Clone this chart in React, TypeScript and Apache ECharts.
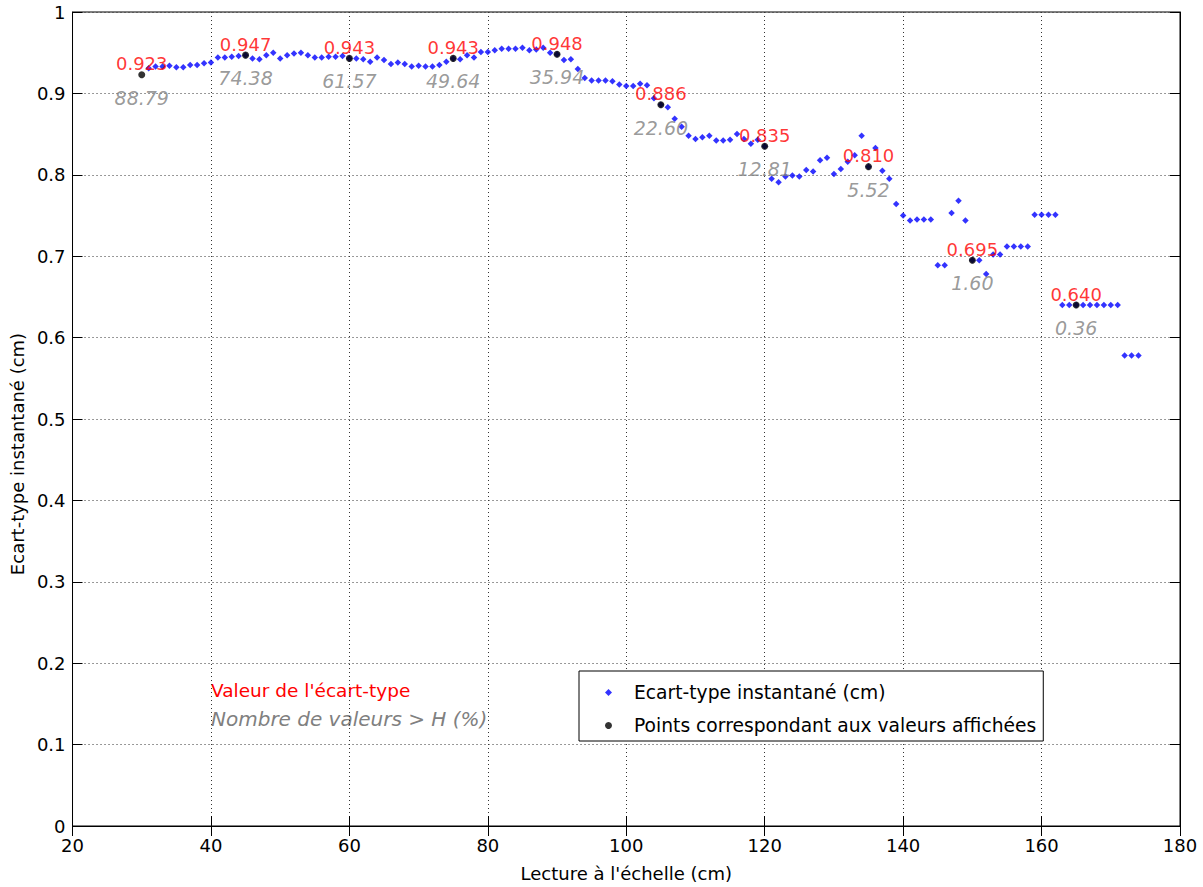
import React, { useEffect, useRef } from "react";
import * as echarts from "echarts";

const FONT = "DejaVu Sans";

// Lecture à l'échelle (cm) for the instantaneous standard deviation points
const stdX = [
  31, 32, 33, 34, 35, 36, 37, 38, 39, 40, 41, 42, 43, 44, 45, 46, 47, 48, 49, 50,
  51, 52, 53, 54, 55, 56, 57, 58, 59, 60, 61, 62, 63, 64, 65, 66, 67, 68, 69, 70,
  71, 72, 73, 74, 75, 76, 77, 78, 79, 80, 81, 82, 83, 84, 85, 86, 87, 88, 89, 90,
  91, 92, 93, 94, 95, 96, 97, 98, 99, 100, 101, 102, 103, 104, 105, 106, 107, 108, 109, 110,
  111, 112, 113, 114, 115, 116, 117, 118, 119, 120, 121, 122, 123, 124, 125, 126, 127, 128, 129, 130,
  131, 132, 133, 134, 135, 136, 137, 138, 139, 140, 141, 142, 143, 144, 145, 146, 147, 148, 149, 150,
  151, 152, 153, 154, 155, 156, 157, 158, 159, 160, 161, 162, 163, 164, 165, 166, 167, 168, 169, 170,
  171, 172, 173, 174,
];

// Ecart-type instantané (cm)
const stdY = [
  0.931, 0.933, 0.933, 0.934, 0.932, 0.932, 0.935, 0.935, 0.937, 0.938,
  0.944, 0.944, 0.945, 0.946, 0.947, 0.943, 0.942, 0.947, 0.950, 0.943,
  0.947, 0.949, 0.950, 0.947, 0.944, 0.944, 0.945, 0.945, 0.946, 0.943,
  0.943, 0.942, 0.939, 0.944, 0.941, 0.936, 0.938, 0.936, 0.933, 0.934,
  0.933, 0.933, 0.935, 0.939, 0.943, 0.942, 0.947, 0.944, 0.951, 0.951,
  0.953, 0.955, 0.955, 0.955, 0.956, 0.953, 0.954, 0.956, 0.950, 0.948,
  0.941, 0.942, 0.930, 0.919, 0.916, 0.916, 0.916, 0.915, 0.911, 0.909,
  0.909, 0.912, 0.910, 0.894, 0.886, 0.883, 0.869, 0.859, 0.848, 0.844,
  0.846, 0.848, 0.842, 0.842, 0.843, 0.850, 0.844, 0.838, 0.843, 0.835,
  0.795, 0.791, 0.798, 0.799, 0.798, 0.806, 0.804, 0.818, 0.821, 0.801,
  0.807, 0.816, 0.824, 0.848, 0.810, 0.833, 0.805, 0.795, 0.764, 0.750,
  0.744, 0.745, 0.745, 0.745, 0.689, 0.689, 0.753, 0.768, 0.744, 0.695,
  0.695, 0.678, 0.702, 0.702, 0.712, 0.712, 0.712, 0.712, 0.751, 0.751,
  0.751, 0.751, 0.640, 0.640, 0.640, 0.640, 0.640, 0.640, 0.640, 0.640,
  0.640, 0.578, 0.578, 0.578,
];

// Points correspondant aux valeurs affichées
const markX = [30, 45, 60, 75, 90, 105, 120, 135, 150, 165];
const markY = [0.923, 0.947, 0.943, 0.943, 0.948, 0.886, 0.835, 0.810, 0.695, 0.640];
// Nombre de valeurs > H (%)
const pctLabels = ["88.79", "74.38", "61.57", "49.64", "35.94", "22.60", "12.81", "5.52", "1.60", "0.36"];

const xMin = 20, xMax = 180, xStep = 20;
const yMin = 0, yMax = 1, yStep = 0.1;

const SERIES_STD = "Ecart-type instantané (cm)";
const SERIES_MARK = "Points correspondant aux valeurs affichées";

export default function App() {
  const ref = useRef<HTMLDivElement>(null);

  useEffect(() => {
    if (!ref.current) return;
    const chart = echarts.init(ref.current, undefined, { renderer: "svg" });

    const stdData = stdX.map((x, i) => [x, stdY[i]]);
    const markData = markX.map((x, i) => [x, markY[i]]);

    const gridLine = { show: true, lineStyle: { type: [1, 3] as any, color: "#333", width: 1 } };
    const tickStyle = { show: true, inside: true, length: 10, lineStyle: { color: "#000", width: 1 } };

    chart.setOption({
      animation: false,
      backgroundColor: "#fff",
      textStyle: { fontFamily: FONT },
      grid: {
        left: 72, right: 23, top: 12, bottom: 58,
        show: true, borderColor: "#000", borderWidth: 1, backgroundColor: "transparent",
      },
      legend: {
        orient: "vertical",
        left: 579,
        top: 671,
        padding: [11, 7, 5, 26],
        itemWidth: 7,
        itemHeight: 7,
        itemGap: 12,
        backgroundColor: "#fff",
        borderColor: "#000",
        borderWidth: 1,
        borderRadius: 0,
        textStyle: { fontFamily: FONT, fontSize: 18.7, color: "#000", lineHeight: 21, padding: [0, 0, 0, 17] },
        data: [
          { name: SERIES_STD, icon: "diamond" },
          { name: SERIES_MARK, icon: "circle" },
        ],
      },
      xAxis: [
        {
          type: "value", min: xMin, max: xMax, interval: xStep, position: "bottom",
          axisLine: { show: true, lineStyle: { color: "#000", width: 1 } },
          axisTick: tickStyle,
          axisLabel: { color: "#000", fontSize: 18, fontFamily: FONT, margin: 10 },
          splitLine: gridLine,
          name: "Lecture à l'échelle (cm)",
          nameLocation: "middle",
          nameGap: 38,
          nameTextStyle: { color: "#000", fontSize: 18, fontFamily: FONT },
        },
        {
          type: "value", min: xMin, max: xMax, interval: xStep, position: "top",
          axisLine: { show: true, lineStyle: { color: "#000", width: 1 } },
          axisTick: tickStyle,
          axisLabel: { show: false },
          splitLine: { show: false },
        },
      ],
      yAxis: [
        {
          type: "value", min: yMin, max: yMax, interval: yStep, position: "left",
          axisLine: { show: true, lineStyle: { color: "#000", width: 1 } },
          axisTick: tickStyle,
          axisLabel: {
            color: "#000", fontSize: 18, fontFamily: FONT, margin: 7,
            formatter: (v: number) => (Math.round(v * 10) / 10).toString(),
          },
          splitLine: gridLine,
          name: "Ecart-type instantané (cm)",
          nameLocation: "middle",
          nameGap: 42,
          nameRotate: 90,
          nameTextStyle: { color: "#000", fontSize: 18, fontFamily: FONT, padding: [0, 70, 0, 0] },
        },
        {
          type: "value", min: yMin, max: yMax, interval: yStep, position: "right",
          axisLine: { show: true, lineStyle: { color: "#000", width: 1 } },
          axisTick: tickStyle,
          axisLabel: { show: false },
          splitLine: { show: false },
        },
      ],
      graphic: [
        {
          type: "text", left: 211, top: 681, silent: true,
          style: { text: "Valeur de l'écart-type", fill: "#ff0000", font: `18.5px "${FONT}"` },
        },
        {
          type: "text", left: 211, top: 709, silent: true,
          style: { text: "Nombre de valeurs > H (%)", fill: "#808080", font: `italic 20px "${FONT}"` },
        },
      ],
      series: [
        {
          name: SERIES_STD,
          type: "scatter",
          symbol: "diamond",
          symbolSize: 6.5,
          itemStyle: { color: "#0000ff" },
          data: stdData,
          z: 2,
        },
        {
          name: SERIES_MARK,
          type: "scatter",
          symbol: "circle",
          symbolSize: 7,
          itemStyle: { color: "#000" },
          data: markData,
          z: 3,
          label: {
            show: true,
            position: "inside",
            offset: [0, -11],
            color: "#ff0000",
            fontSize: 18,
            fontFamily: FONT,
            formatter: (p: any) => Number(p.value[1]).toFixed(3),
          },
        },
        {
          name: "pct",
          type: "scatter",
          symbol: "circle",
          symbolSize: 1,
          itemStyle: { color: "rgba(0,0,0,0)" },
          data: markData,
          z: 4,
          silent: true,
          label: {
            show: true,
            position: "inside",
            offset: [0, 23],
            color: "#808080",
            fontSize: 19,
            fontStyle: "italic",
            fontFamily: FONT,
            formatter: (p: any) => pctLabels[p.dataIndex],
          },
        },
      ],
    });

    return () => chart.dispose();
  }, []);

  return (
    <div
      ref={ref}
      style={{ position: "fixed", left: 0, top: 0, width: 1203, height: 887, background: "#fff" }}
    />
  );
}
